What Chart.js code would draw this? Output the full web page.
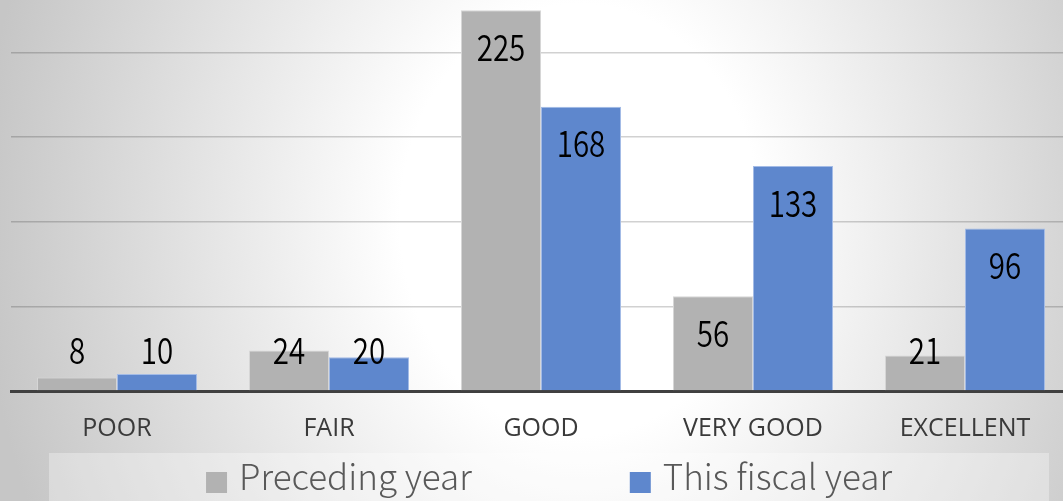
<!DOCTYPE html>
<html>
<head>
<meta charset="utf-8">
<script src="https://cdn.jsdelivr.net/npm/chart.js@4/dist/chart.umd.min.js"></script>
<style>
    html, body { margin: 0; padding: 0; width: 1063px; height: 501px; overflow: hidden; }
    body {
        position: relative;
        background: radial-gradient(ellipse 600px 720px at 580px 220px, #ffffff 0%, #ffffff 30%, #d2d2d2 85%, #c6c6c6 100%);
    }
    #chart { position: absolute; left: 0; top: -32px; }
</style>
</head>
<body>
<canvas id="chart" width="1080" height="560"></canvas>
<script>
const categories = ['POOR', 'FAIR', 'GOOD', 'VERY GOOD', 'EXCELLENT'];
const seriesNames = ['Preceding year', 'This fiscal year'];
const precedingYear = [8, 24, 225, 56, 21];
const thisFiscalYear = [10, 20, 168, 133, 96];
const yMax = 250;
const yStep = 50;

// valeurs dans les barres, façon Excel "inside end"
const valueLabels = {
    id: 'valueLabels',
    afterDatasetsDraw(chart) {
        const { ctx } = chart;
        ctx.save();
        ctx.font = '350 36px "Noto Sans CJK JP"';
        ctx.fillStyle = '#000';
        ctx.textAlign = 'center';
        ctx.textBaseline = 'middle';
        chart.data.datasets.forEach((ds, i) => {
            chart.getDatasetMeta(i).data.forEach((bar, j) => {
                const y = Math.min(bar.y + 37, bar.base - 40);
                ctx.save();
                ctx.translate(bar.x, y);
                ctx.scale(0.82, 1);
                ctx.fillText(String(ds.data[j]), 0, 0);
                ctx.restore();
            });
        });
        ctx.restore();
    }
};

// légende dans un cadre clair sous l'axe
const boxedLegend = {
    id: 'boxedLegend',
    afterDraw(chart) {
        const { ctx, chartArea } = chart;
        const top = chartArea.bottom + 62;
        ctx.save();
        ctx.fillStyle = 'rgba(255,255,255,0.32)';
        ctx.fillRect(49, top, 1000, 90);

        ctx.font = '300 35px "Noto Sans CJK JP"';
        ctx.textBaseline = 'alphabetic';
        ctx.textAlign = 'left';
        const box = 21, gapText = 12, gapItem = 158;
        const items = chart.data.datasets.map(ds => ({
            text: ds.label, color: ds.backgroundColor, w: ctx.measureText(ds.label).width
        }));
        const total = items.reduce((s, it) => s + box + gapText + it.w, 0) + gapItem * (items.length - 1);
        let x = 549 - total / 2;
        items.forEach(it => {
            ctx.fillStyle = it.color;
            ctx.fillRect(x, top + 19, box, box);
            ctx.fillStyle = '#595959';
            ctx.fillText(it.text, x + box + gapText, top + 37);
            x += box + gapText + it.w + gapItem;
        });
        ctx.restore();
    }
};

new Chart(document.getElementById('chart'), {
    type: 'bar',
    data: {
        labels: categories,
        datasets: [
            {
                label: seriesNames[0], data: precedingYear,
                backgroundColor: '#b2b2b2', borderColor: '#d6d6d6', borderWidth: 1
            },
            {
                label: seriesNames[1], data: thisFiscalYear,
                backgroundColor: '#5e87cd', borderColor: '#a3bbe6', borderWidth: 1
            }
        ]
    },
    options: {
        responsive: false,
        animation: false,
        devicePixelRatio: 1,
        layout: { padding: { top: 0, left: 11, right: 9, bottom: 61 } },
        datasets: { bar: { categoryPercentage: 160 / 212, barPercentage: 1 } },
        plugins: {
            legend: { display: false },
            tooltip: { enabled: false }
        },
        scales: {
            x: {
                z: 1,
                grid: { display: false, drawTicks: false },
                border: { display: true, color: '#404040', width: 3 },
                ticks: {
                    color: '#3a3a3a',
                    padding: 23,
                    font: { family: '"Open Sans"', size: 25 }
                }
            },
            y: {
                min: 0, max: yMax,
                ticks: { display: false, stepSize: yStep },
                border: { display: false },
                grid: {
                    drawTicks: false,
                    lineWidth: 1.5,
                    color: c => (c.tick.value > 0 && c.tick.value < yMax) ? 'rgba(0,0,0,0.18)' : 'rgba(0,0,0,0)'
                }
            }
        }
    },
    plugins: [valueLabels, boxedLegend]
});
</script>
</body>
</html>
